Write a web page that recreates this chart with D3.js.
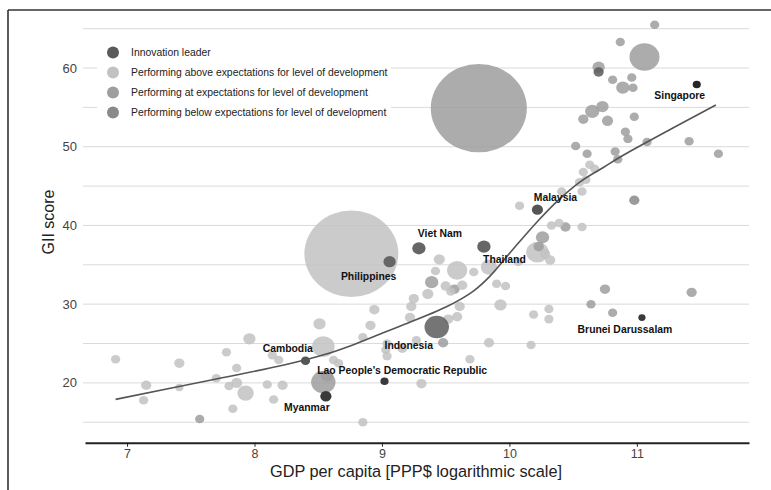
<!DOCTYPE html>
<html>
<head>
<meta charset="utf-8">
<script src="https://cdn.jsdelivr.net/npm/d3@7"></script>
<style>
  html, body { margin: 0; padding: 0; background: #fff; }
  svg { display: block; font-family: Arial, "Liberation Sans", Helvetica, sans-serif; }
</style>
</head>
<body>
<svg id="chart" width="771" height="490"></svg>
<script>
// ---- Economies (unlabelled): log GDP per capita, GII score, bubble weight, performance group
// group codes: L = innovation leader, A = above expectations, T = at expectations, B = below expectations
const otherGdp = [6.91, 7.15, 7.13, 7.41, 7.41, 7.57, 7.70, 7.78, 7.80, 7.86, 7.86, 7.83, 7.93, 7.96, 8.10, 8.15, 8.22, 8.14, 8.19, 8.51,
  8.54, 8.54, 8.57, 8.62, 8.66, 8.76, 8.85, 8.85, 8.91, 8.94, 9.04, 9.03, 9.04, 9.16, 9.22, 9.23, 9.25, 9.36, 9.39, 9.42,
  9.45, 9.59, 9.50, 9.54, 9.57, 9.63, 9.72, 9.61, 9.59, 9.52, 9.48, 9.27, 9.31, 9.69, 9.84, 10.17, 9.84, 9.90, 9.97, 9.93,
  10.07, 10.19, 10.31, 10.31, 10.22, 10.26, 10.23, 10.28, 10.32, 10.08, 10.33, 10.39, 10.44, 10.57, 10.41, 10.57, 10.55, 10.60, 10.58, 10.63,
  10.67, 10.52, 10.61, 10.83, 10.85, 10.98, 10.75, 10.64, 10.81, 11.43, 11.64, 11.41, 11.08, 10.91, 10.93, 10.98, 10.77, 10.58, 10.65, 10.73,
  10.81, 10.96, 10.89, 10.97, 10.70, 10.70, 10.87, 11.14, 11.06, 9.76];
const otherGii = [23.0, 19.7, 17.8, 22.5, 19.4, 15.4, 20.6, 23.9, 19.6, 21.9, 20.0, 16.7, 18.7, 25.6, 19.8, 17.9, 19.7, 23.5, 22.9, 27.5,
  24.6, 20.1, 20.9, 22.9, 22.5, 36.4, 25.8, 15.0, 27.3, 29.3, 25.0, 24.2, 23.4, 24.4, 28.3, 29.7, 30.7, 31.3, 32.8, 34.2,
  35.7, 34.3, 32.3, 31.6, 31.9, 32.4, 34.1, 29.7, 28.4, 28.1, 25.1, 25.4, 19.9, 23.0, 25.1, 24.8, 34.7, 32.6, 32.3, 29.9,
  35.4, 28.7, 29.4, 28.1, 36.6, 38.5, 37.3, 36.4, 35.6, 42.5, 40.0, 40.3, 39.8, 39.8, 44.3, 44.3, 45.5, 45.8, 46.8, 47.7,
  47.2, 50.1, 49.1, 49.4, 48.4, 43.2, 31.9, 30.0, 28.9, 31.5, 49.1, 50.7, 50.6, 51.9, 51.0, 53.8, 53.3, 53.5, 54.5, 55.1,
  58.5, 58.8, 57.5, 57.5, 60.1, 59.5, 63.3, 65.5, 61.4, 54.9];
const otherWeight = [13, 16, 13, 16, 10, 13, 13, 13, 13, 13, 19, 13, 41, 23, 13, 13, 16, 13, 13, 23,
  77, 91, 23, 13, 13, 1341, 13, 13, 16, 16, 13, 13, 13, 16, 16, 16, 16, 19, 27, 13,
  19, 63, 16, 13, 16, 16, 13, 16, 16, 16, 16, 13, 16, 13, 16, 13, 41, 13, 13, 23,
  13, 13, 13, 13, 77, 27, 16, 16, 16, 13, 13, 13, 16, 13, 13, 13, 13, 13, 13, 13,
  13, 13, 13, 13, 13, 16, 16, 13, 13, 16, 13, 13, 13, 13, 13, 13, 19, 16, 31, 23,
  13, 13, 27, 13, 23, 16, 13, 13, 137, 1400];
const otherGroup = ("AAAAATAAAAAAAAAAAAAA" + "ATTAAAAAAAAAAAAAAATA" + "AAAATAAAAATAAAAAAAAA" +
  "AAAAATTAAAAATAAAAAAA" + "ATTTTBTTTTTTTTTTTTTT" + "TTTTTLTTTT").split("");

// ---- Labelled economies
const labelNames = ["Singapore", "Malaysia", "Viet Nam", "Thailand", "Philippines", "Indonesia",
  "Brunei Darussalam", "Cambodia", "Lao People's Democratic Republic", "Myanmar"];
const labelGdp = [11.47, 10.22, 9.29, 9.80, 9.06, 9.43, 11.04, 8.40, 9.02, 8.56];
const labelGii = [57.9, 42.0, 37.1, 37.3, 35.4, 27.1, 28.3, 22.8, 20.2, 18.3];
const labelWeight = [10, 19, 27, 27, 23, 91, 8, 13, 10, 19];
const labelGroup = ["L", "T", "A", "A", "A", "A", "B", "T", "B", "B"];

// ---- Fitted trend
const trendGdp = [6.91, 7.70, 8.24, 8.55, 8.75, 9.00, 9.14, 9.51, 9.72, 9.85, 10.03, 10.22, 10.37, 10.56, 10.74, 10.87, 11.08, 11.62];
const trendGii = [17.9, 20.5, 22.3, 23.6, 24.7, 26.3, 27.2, 29.7, 31.7, 33.6, 37.0, 40.5, 43.0, 45.6, 47.4, 48.7, 50.6, 55.3];

// ---- Axes and legend text
const xTicks = [7, 8, 9, 10, 11];
const yTicks = [20, 30, 40, 50, 60];
const gridValues = [15, 20, 25, 30, 35, 40, 45, 50, 55, 60, 65];
const legendKeys = ["L", "A", "T", "B"];
const legendLabels = ["Innovation leader",
  "Performing above expectations for level of development",
  "Performing at expectations for level of development",
  "Performing below expectations for level of development"];

// ---- Styling
const groupFill = { L: "#5a5a5a", A: "#c2c2c2", T: "#9e9e9e", B: "#8a8a8a" };
const markFill = { L: "#262626", A: "#666666", T: "#555555", B: "#3a3a3a" };
const labelOffset = {
  "Singapore": [-17, 14.5], "Malaysia": [18, -8.3], "Viet Nam": [21, -11], "Thailand": [20.5, 16.6],
  "Philippines": [-21, 18.3], "Indonesia": [-28, 21.6], "Brunei Darussalam": [-17, 15],
  "Cambodia": [-17.7, -8.4], "Lao People's Democratic Republic": [17.7, -7.7], "Myanmar": [-19, 15]
};
const ellipseRatio = 0.92;

const svg = d3.select("#chart");
const x = d3.scaleLinear().domain([6.67, 11.88]).range([85, 749]);
const y = d3.scaleLinear().domain([12.4, 66]).range([442.7, 20.8]);
const r = d3.scaleSqrt().domain([0, 1400]).range([0, 48]);

// outer frame
svg.append("line").attr("x1", 8).attr("x2", 771).attr("y1", 10).attr("y2", 10)
  .attr("stroke", "#333").attr("stroke-width", 1.6);
svg.append("line").attr("x1", 8).attr("x2", 8).attr("y1", 10).attr("y2", 490)
  .attr("stroke", "#333").attr("stroke-width", 1.6);

// horizontal gridlines
svg.append("g").selectAll("line").data(gridValues).join("line")
  .attr("x1", 83).attr("x2", 749)
  .attr("y1", d => y(d)).attr("y2", d => y(d))
  .attr("stroke", "#dadada").attr("stroke-width", 1);

// y tick labels
svg.append("g").selectAll("text").data(yTicks).join("text")
  .attr("x", 77).attr("y", d => y(d)).attr("dy", "0.35em")
  .attr("text-anchor", "end").attr("font-size", 13).attr("fill", "#444")
  .text(d => d);

// unlabelled bubbles, largest first
const others = otherGdp.map((g, i) => ({ g, s: otherGii[i], w: otherWeight[i], k: otherGroup[i] }))
  .sort((a, b) => b.w - a.w);
svg.append("g").selectAll("ellipse").data(others).join("ellipse")
  .attr("cx", d => x(d.g)).attr("cy", d => y(d.s))
  .attr("rx", d => r(d.w)).attr("ry", d => r(d.w) * ellipseRatio)
  .attr("fill", d => groupFill[d.k]).attr("fill-opacity", 0.85);

// trend line
const trend = trendGdp.map((g, i) => [g, trendGii[i]]);
svg.append("path").datum(trend)
  .attr("d", d3.line().x(d => x(d[0])).y(d => y(d[1])).curve(d3.curveCatmullRom.alpha(0.5)))
  .attr("fill", "none").attr("stroke", "#555").attr("stroke-width", 1.6);

// labelled economies
const labelled = labelNames.map((n, i) => ({ n, g: labelGdp[i], s: labelGii[i], w: labelWeight[i], k: labelGroup[i] }));
svg.append("g").selectAll("ellipse").data(labelled).join("ellipse")
  .attr("cx", d => x(d.g)).attr("cy", d => y(d.s))
  .attr("rx", d => r(d.w)).attr("ry", d => r(d.w) * ellipseRatio)
  .attr("fill", d => markFill[d.k]).attr("fill-opacity", d => d.w > 50 ? 0.9 : 1);
svg.append("g").selectAll("text").data(labelled).join("text")
  .attr("x", d => x(d.g) + labelOffset[d.n][0])
  .attr("y", d => y(d.s) + labelOffset[d.n][1])
  .attr("text-anchor", "middle").attr("font-size", 10.4).attr("font-weight", "bold").attr("fill", "#111")
  .text(d => d.n);

// legend
const legend = svg.append("g");
legend.append("rect").attr("x", 97).attr("y", 38).attr("width", 294).attr("height", 86).attr("fill", "#fff");
const items = legend.selectAll("g").data(legendKeys).join("g")
  .attr("transform", (d, i) => `translate(113, ${52.5 + i * 20})`);
items.append("circle").attr("r", 6).attr("fill", d => groupFill[d]);
items.append("text").attr("x", 18).attr("dy", "0.35em")
  .attr("font-size", 10.4).attr("fill", "#222")
  .text((d, i) => legendLabels[i]);

// x axis
const xAxis = svg.append("g").attr("transform", "translate(0, 442.7)")
  .call(d3.axisBottom(x).tickValues(xTicks).tickSize(4).tickSizeOuter(0).tickPadding(2).tickFormat(d3.format("d")));
xAxis.select(".domain").attr("stroke", "#222").attr("stroke-width", 2);
xAxis.selectAll(".tick line").attr("stroke", "#222");
xAxis.selectAll(".tick text").attr("font-size", 12.5).attr("fill", "#444").attr("font-family", null);

// axis titles
svg.append("text").attr("x", 416).attr("y", 477).attr("text-anchor", "middle")
  .attr("font-size", 16.3).attr("fill", "#222").text("GDP per capita [PPP$ logarithmic scale]");
svg.append("text").attr("transform", "translate(54, 222) rotate(-90)").attr("text-anchor", "middle")
  .attr("font-size", 16).attr("fill", "#222").text("GII score");
</script>
</body>
</html>
